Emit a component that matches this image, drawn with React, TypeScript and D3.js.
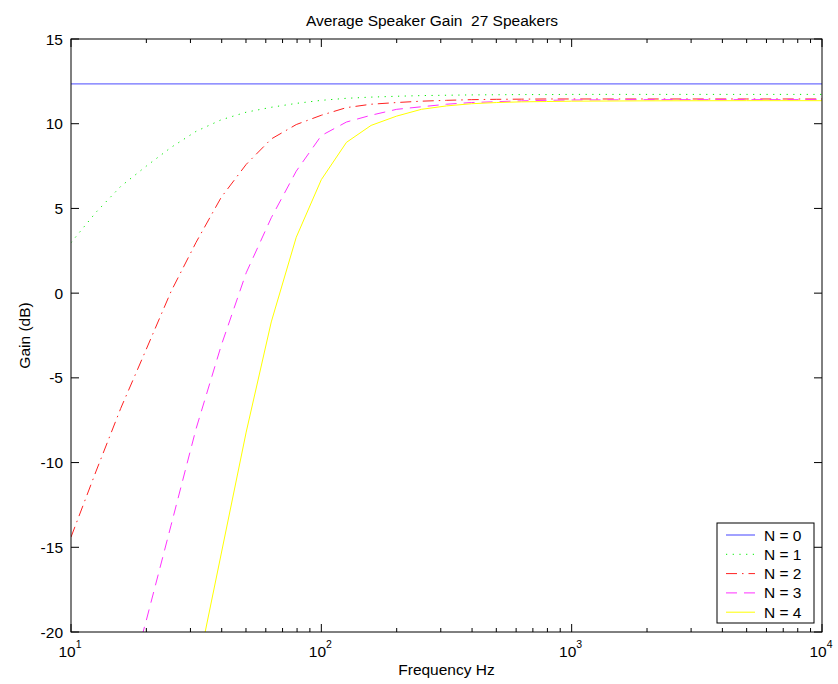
import React from 'react';
import * as d3 from 'd3';

const width = 838, height = 684,
    margin = { top: 39, right: 16, left: 71, bottom: 52 };

// chart data
const title = 'Average Speaker Gain  27 Speakers';
const xLabel = 'Frequency Hz';
const yLabel = 'Gain (dB)';

const freqs = [10, 12.6, 15.8, 20, 25.1, 31.6, 39.8, 50.1, 63.1, 79.4, 100, 126, 158, 200, 251, 316, 398, 501, 631, 794, 1000, 2000, 5000, 10000];
const gainN0 = [12.35, 12.35, 12.35, 12.35, 12.35, 12.35, 12.35, 12.35, 12.35, 12.35, 12.35, 12.35, 12.35, 12.35, 12.35, 12.35, 12.35, 12.35, 12.35, 12.35, 12.35, 12.35, 12.35, 12.35];
const gainN1 = [2.98, 4.78, 6.3, 7.5, 8.6, 9.55, 10.23, 10.68, 10.97, 11.2, 11.38, 11.5, 11.57, 11.62, 11.66, 11.68, 11.7, 11.71, 11.72, 11.72, 11.73, 11.73, 11.73, 11.73];
const gainN2 = [-14.4, -10.5, -6.8, -3.3, 0.1, 3.0, 5.65, 7.6, 9.1, 9.95, 10.5, 10.95, 11.15, 11.25, 11.33, 11.38, 11.42, 11.44, 11.45, 11.46, 11.46, 11.46, 11.46, 11.46];
const gainN3 = [-36.8, -30.8, -24.8, -19.3, -13.7, -8.0, -3.1, 1.2, 4.45, 7.2, 9.3, 10.1, 10.5, 10.85, 11.0, 11.15, 11.25, 11.3, 11.35, 11.38, 11.4, 11.42, 11.42, 11.42];
const gainN4 = [-58.6, -51.4, -44.2, -37, -29.8, -22.6, -15.4, -8.2, -1.7, 3.3, 6.7, 8.9, 9.9, 10.45, 10.85, 11.05, 11.18, 11.25, 11.29, 11.31, 11.33, 11.35, 11.36, 11.36];

const seriesNames = ['N = 0', 'N = 1', 'N = 2', 'N = 3', 'N = 4'];
const seriesValues = [gainN0, gainN1, gainN2, gainN3, gainN4];
const seriesColors = ['#6f6fff', '#00ee00', '#ff2020', '#ff30ff', '#ffff00'];
const seriesDash = [null, '1.2,5.5', '11,5,1.5,5', '11,7', null];

const yTicks = [-20, -15, -10, -5, 0, 5, 10, 15];
const xDecades = [10, 100, 1000, 10000];
const xExponents = ['1', '2', '3', '4'];

const font = 'Liberation Sans, Arial, Helvetica, sans-serif';

export default function App() {
    const x0 = margin.left, x1 = width - margin.right;
    const y0 = margin.top, y1 = height - margin.bottom;

    const xScale = d3.scaleLog().domain([10, 10000]).range([x0, x1]);
    const yScale = d3.scaleLinear().domain([-20, 15]).range([y1, y0]);

    const line = d3.line<number>()
        .x((_, i) => xScale(freqs[i]))
        .y(d => yScale(d));

    // minor ticks 2..9 in each decade
    const minor: number[] = [];
    xDecades.slice(0, 3).forEach(dec => {
        for (let m = 2; m <= 9; m++) minor.push(dec * m);
    });

    const legendX = 717, legendY = 523, legendW = 97, legendH = 100;

    return (
        <svg width={width} height={height} style={{ position: 'fixed', left: 0, top: 0, background: '#fff' }}
            fontFamily={font}>
            <defs>
                <clipPath id="plotClip">
                    <rect x={x0} y={y0} width={x1 - x0} height={y1 - y0} />
                </clipPath>
            </defs>
            <rect x={0} y={0} width={width} height={height} fill="#fff" />

            {/* curves */}
            <g clipPath="url(#plotClip)">
                {seriesValues.map((vals, i) => (
                    <path key={i} d={line(vals) || ''} fill="none" stroke={seriesColors[i]}
                        strokeWidth={i === 0 ? 1.3 : 1} strokeDasharray={seriesDash[i] || undefined} />
                ))}
            </g>

            {/* box */}
            <rect x={x0} y={y0} width={x1 - x0} height={y1 - y0} fill="none" stroke="#000" strokeWidth={1} />

            {/* y ticks */}
            {yTicks.map(t => (
                <g key={t}>
                    <line x1={x0} x2={x0 + 8} y1={yScale(t)} y2={yScale(t)} stroke="#000" />
                    <line x1={x1} x2={x1 - 8} y1={yScale(t)} y2={yScale(t)} stroke="#000" />
                    <text x={x0 - 8} y={yScale(t) + 5.5} textAnchor="end" fontSize={15.5}>{t}</text>
                </g>
            ))}

            {/* x ticks */}
            {xDecades.map((t, i) => (
                <g key={t}>
                    <line x1={xScale(t)} x2={xScale(t)} y1={y1} y2={y1 - 8} stroke="#000" />
                    <line x1={xScale(t)} x2={xScale(t)} y1={y0} y2={y0 + 8} stroke="#000" />
                    <text x={xScale(t) - 1} y={y1 + 25} textAnchor="middle" fontSize={15.5}>
                        10<tspan dy={-9} fontSize={10.5}>{xExponents[i]}</tspan>
                    </text>
                </g>
            ))}
            {minor.map(t => (
                <g key={'m' + t}>
                    <line x1={xScale(t)} x2={xScale(t)} y1={y1} y2={y1 - 4} stroke="#000" />
                    <line x1={xScale(t)} x2={xScale(t)} y1={y0} y2={y0 + 4} stroke="#000" />
                </g>
            ))}

            {/* labels */}
            <text x={432} y={26} textAnchor="middle" fontSize={15.5} style={{ whiteSpace: 'pre' }}>{title}</text>
            <text x={(x0 + x1) / 2} y={675} textAnchor="middle" fontSize={15.5}>{xLabel}</text>
            <text transform={`translate(30, ${(y0 + y1) / 2}) rotate(-90)`} textAnchor="middle" fontSize={15.5}>{yLabel}</text>

            {/* legend */}
            <rect x={legendX} y={legendY} width={legendW} height={legendH} fill="#fff" stroke="#000" />
            {seriesNames.map((name, i) => {
                const cy = legendY + 12 + i * 19.3;
                return (
                    <g key={name}>
                        <line x1={726} x2={755} y1={cy} y2={cy} stroke={seriesColors[i]}
                            strokeWidth={i === 0 ? 1.3 : 1} strokeDasharray={seriesDash[i] || undefined} />
                        <text x={764} y={cy + 5.5} fontSize={15.5}>{name}</text>
                    </g>
                );
            })}
        </svg>
    );
}
